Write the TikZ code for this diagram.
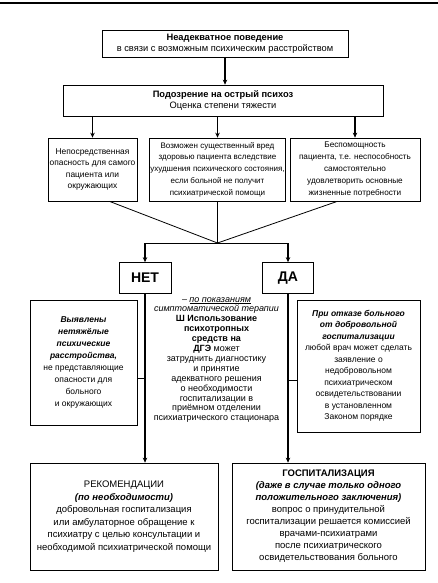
\documentclass[tikz,border=0pt]{standalone}
\usepackage{fontspec}
\setmainfont{Liberation Sans}
\usetikzlibrary{arrows.meta}
\newcommand{\bi}[1]{\textbf{\textit{#1}}}

\begin{document}
\begin{tikzpicture}[x=1pt,y=-1pt,
  box/.style={draw,line width=0.7pt,inner xsep=1pt,inner ysep=2pt,align=center},
  arr/.style={line width=1.1pt,-{Stealth[length=5pt,width=4.5pt]}},
  link/.style={line width=0.8pt}]
\useasboundingbox (0,0) rectangle (438,583);
\draw[line width=1.2pt] (0,3) -- (438,3);

% top of the chart
\node[box,minimum width=246pt,minimum height=27pt,font=\fontsize{9.3}{11}\selectfont] (behav) at (225,43.5)
  {\textbf{Неадекватное поведение}\\в связи с возможным психическим расстройством};
\node[box,minimum width=320pt,minimum height=31pt,font=\fontsize{9.3}{11}\selectfont] (susp) at (223,100.5)
  {\textbf{Подозрение на острый психоз}\\Оценка степени тяжести};

% criteria
\node[box,minimum width=89pt,minimum height=63pt,font=\fontsize{8.4}{11.5}\selectfont] (c1) at (92.5,169.5)
  {Непосредственная\\опасность для самого\\пациента или\\окружающих};
\node[box,minimum width=135pt,minimum height=63pt,font=\fontsize{8}{11.8}\selectfont] (c2) at (217.5,169.5)
  {Возможен существенный вред\\здоровью пациента вследствие\\ухудшения психического состояния,\\если больной не получит\\психиатрической помощи};
\node[box,minimum width=130pt,minimum height=63pt,font=\fontsize{8.2}{11.8}\selectfont] (c3) at (355,169.5)
  {Беспомощность\\пациента, т.е. неспособность\\самостоятельно\\удовлетворить основные\\жизненные потребности};

% answers
\node[box,minimum width=52pt,minimum height=31pt,font=\fontsize{14}{16}\selectfont\bfseries] (no) at (145,278) {НЕТ};
\node[box,minimum width=51pt,minimum height=31pt,font=\fontsize{14}{16}\selectfont\bfseries] (yes) at (288,278) {ДА};

\node[box,minimum width=107pt,minimum height=125pt,font=\fontsize{8.5}{12}\selectfont] (mild) at (83.5,362.5)
  {\bi{Выявлены}\\\bi{нетяжёлые}\\\bi{психические}\\\bi{расстройства,}\\не представляющие\\опасности для\\больного\\и окружающих};
\node[align=center,font=\fontsize{9}{9.9}\selectfont] (note) at (216.5,360)
  {\textit{– \underline{по показаниям}}\\\textit{симптоматической терапии}\\\textbf{Ш Использование}\\\textbf{психотропных}\\\textbf{средств на}\\\textbf{ДГЭ} может\\затруднить диагностику\\и принятие\\адекватного решения\\о необходимости\\госпитализации в\\приёмном отделении\\психиатрического стационара};
\node[box,minimum width=123pt,minimum height=132pt,font=\fontsize{8.5}{11.5}\selectfont] (refuse) at (358.5,366)
  {\bi{При отказе больного}\\\bi{от добровольной}\\\bi{госпитализации}\\любой врач может сделать\\заявление о\\недобровольном\\психиатрическом\\освидетельствовании\\в установленном\\Законом порядке};

% outcomes
\node[box,minimum width=188pt,minimum height=107pt,font=\fontsize{9.5}{12.5}\selectfont] (rec) at (124,516.5)
  {РЕКОМЕНДАЦИИ\\\bi{(по необходимости)}\\добровольная госпитализация\\или амбулаторное обращение к\\психиатру с целью консультации и\\необходимой психиатрической помощи};
\node[box,minimum width=193pt,minimum height=107pt,font=\fontsize{9.5}{12}\selectfont] (hosp) at (328.5,516.5)
  {\textbf{ГОСПИТАЛИЗАЦИЯ}\\\bi{(даже в случае только одного}\\\bi{положительного заключения)}\\вопрос о принудительной\\госпитализации решается комиссией\\врачами-психиатрами\\после психиатрического\\освидетельствования больного};

\coordinate (join) at (217.5,243);

\draw[arr] (behav.south) -- (behav.south |- susp.north);
\draw[arr] (susp.south -| c1.north) -- (c1.north);
\draw[arr] (susp.south -| c2.north) -- (c2.north);
\draw[arr] (susp.south -| c3.north) -- (c3.north);

\draw[link] (c1.-62) -- (join);
\draw[link] (c2.south) -- (join);
\draw[link] (c3.-119) -- (join);
\draw[link] (no.north |- join) -- (yes.north |- join);
\draw[arr] (no.north |- join) -- (no.north);
\draw[arr] (yes.north |- join) -- (yes.north);

\draw[arr] (no.south) -- (no.south |- rec.north);
\draw[arr] (yes.south) -- (yes.south |- hosp.north);
\draw[link] (mild.-16) -- (mild.-16 -| no.south);
\draw[link] (refuse.193) -- (refuse.193 -| yes.south);

\end{tikzpicture}
\end{document}
